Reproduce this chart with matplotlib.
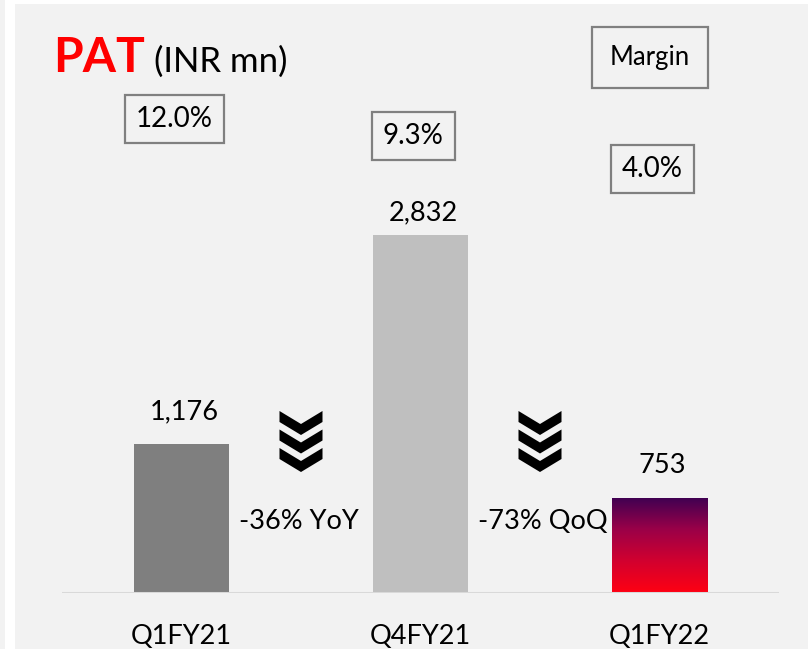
import matplotlib
matplotlib.use("Agg")
import matplotlib.pyplot as plt
import matplotlib.transforms as mtransforms
from matplotlib.patches import Polygon, Rectangle
from matplotlib.colors import LinearSegmentedColormap
import numpy as np

plt.rcParams['font.family'] = ['Lato', 'DejaVu Sans']

# ---- data ----
categories = ["Q1FY21", "Q4FY21", "Q1FY22"]
pat_values = [1176, 2832, 753]
pat_labels = ["1,176", "2,832", "753"]
margins = [12.0, 9.3, 4.0]
margin_labels = ["12.0%", "9.3%", "4.0%"]
changes = ["-36% YoY", "-73% QoQ"]
bar_colors = ["#7f7f7f", "#bfbfbf", None]

W, H = 808, 649
fig = plt.figure(figsize=(W / 100, H / 100), dpi=100)
fig.patch.set_facecolor("#f2f2f2")

# screenshot borders
fig.patches.append(Rectangle((5 / W, 0), 10 / W, 1, transform=fig.transFigure,
                             facecolor="white", edgecolor="none", zorder=0))
fig.patches.append(Rectangle((15 / W, 1 - 4 / H), 1, 4 / H, transform=fig.transFigure,
                             facecolor="white", edgecolor="none", zorder=0))

ax = fig.add_axes([62 / W, 56 / H, 717 / W, 589 / H])
ax.set_facecolor("none")
x = np.arange(len(categories))
bars = ax.bar(x, pat_values, width=0.4, color=[c if c else "none" for c in bar_colors],
              zorder=2)
ax.set_xlim(-0.5, 2.5)
ax.set_ylim(0, 4656)

# gradient bar
cmap = LinearSegmentedColormap.from_list("g", ["#ff0012", "#d2002f", "#9a0048", "#3e0052"])
b = bars[2]
grad = np.linspace(0, 1, 256).reshape(-1, 1)
im = ax.imshow(grad, cmap=cmap, origin="lower", aspect="auto",
               extent=(b.get_x(), b.get_x() + b.get_width(), 0, b.get_height()), zorder=2)
im.set_clip_path(b)
ax.set_xlim(-0.5, 2.5)
ax.set_ylim(0, 4656)

ax.axhline(0, color="#d9d9d9", lw=2.2, zorder=3)
for s in ax.spines.values():
    s.set_visible(False)
ax.set_yticks([])
ax.set_xticks(x)
ax.set_xticklabels(categories, fontsize=19.5)
ax.tick_params(axis="x", length=0, pad=22)

# value labels
label_dy = [20, 9, 20]
for i, (v, lab) in enumerate(zip(pat_values, pat_labels)):
    ax.annotate(lab, (x[i], v), xytext=(3, label_dy[i]), textcoords="offset pixels",
                ha="center", va="bottom", fontsize=19.5)

# margins on secondary scale
ax2 = ax.twinx()
ax2.set_ylim(-63.84, 30.4)
ax2.axis("off")
for i, (m, lab) in enumerate(zip(margins, margin_labels)):
    ax2.text(x[i] - 0.03, m, lab, ha="center", va="center", fontsize=20,
             bbox=dict(boxstyle="square,pad=0.4", fc="none", ec="#808080", lw=1.6))

ax2.text(2 - 0.04, 21.9, "Margin", ha="center", va="center", fontsize=18.5,
         bbox=dict(boxstyle="square,pad=0.7", fc="none", ec="#808080", lw=1.6))

# chevrons and change text
blend = mtransforms.blended_transform_factory(ax.transData, ax.transAxes)
def chevron(xc, yfrac):
    w, d, t = 21.5, 13, 11
    tr = mtransforms.Affine2D() + mtransforms.ScaledTranslation(xc, yfrac, blend)
    for k in range(3):
        top = -18.5 * k
        pts = [(-w, top), (0, top - d), (w, top), (w, top - t),
               (0, top - d - t), (-w, top - t)]
        ax.add_patch(Polygon(pts, closed=True, transform=tr, facecolor="black",
                             edgecolor="none", clip_on=False, zorder=4))

for k, txt in enumerate(changes):
    xc = x[k] + 0.5
    chevron(xc, 0.309)
    ax.text(xc + (-0.01 if k == 0 else 0.01), 0.121, txt, transform=blend,
            ha="center", va="center", fontsize=19.5)

# title
fig.text(53 / W, 1 - 72 / H, "PAT", color="#ff0000", fontsize=34.5, fontweight="bold",
         ha="left", va="baseline")
fig.text(154 / W, 1 - 72 / H, "(INR mn)", color="black", fontsize=25,
         ha="left", va="baseline")

fig.savefig("out.png", dpi=100, facecolor=fig.get_facecolor())
